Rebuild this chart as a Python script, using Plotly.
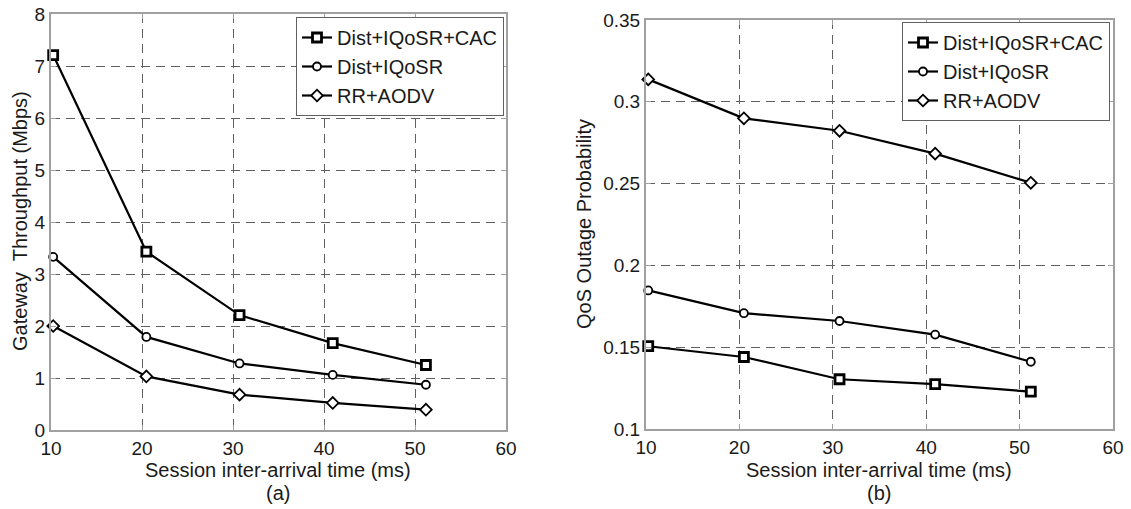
import plotly.graph_objects as go

# ---- data ----
x_ms = [10.24, 20.48, 30.72, 40.96, 51.2]
series_names = ["Dist+IQoSR+CAC", "Dist+IQoSR", "RR+AODV"]
thr_cac = [7.21, 3.43, 2.21, 1.67, 1.25]
thr_iqosr = [3.33, 1.79, 1.28, 1.06, 0.87]
thr_rr = [2.00, 1.03, 0.68, 0.52, 0.39]
out_cac = [0.1506, 0.1440, 0.1304, 0.1274, 0.1228]
out_iqosr = [0.1847, 0.1708, 0.1660, 0.1577, 0.1411]
out_rr = [0.3137, 0.2899, 0.2823, 0.2683, 0.2505]
x_ticks = [10, 20, 30, 40, 50, 60]
y1_ticks = [0, 1, 2, 3, 4, 5, 6, 7, 8]
y2_ticks = [0.1, 0.15, 0.2, 0.25, 0.3, 0.35]
y2_ticktext = ["0.1", "0.15", "0.2", "0.25", "0.3", "0.35"]

W, H = 1131, 509
FONT = "Liberation Sans, Arial, Helvetica, sans-serif"
TXT = "#1a1a1a"

markers = [
    dict(symbol="square", size=9, color="white", line=dict(color="black", width=2.8)),
    dict(symbol="circle", size=8, color="white", line=dict(color="black", width=1.8)),
    dict(symbol="diamond", size=9, color="white", line=dict(color="black", width=1.8)),
]

fig = go.Figure()
for name, ys, mk in zip(series_names, [thr_cac, thr_iqosr, thr_rr], markers):
    fig.add_trace(go.Scatter(x=x_ms, y=ys, mode="lines+markers", name=name,
                             line=dict(color="black", width=2.2), marker=mk,
                             cliponaxis=False, xaxis="x", yaxis="y", legend="legend"))
for name, ys, mk in zip(series_names, [out_cac, out_iqosr, out_rr], markers):
    fig.add_trace(go.Scatter(x=x_ms, y=ys, mode="lines+markers", name=name,
                             line=dict(color="black", width=2.2), marker=mk,
                             cliponaxis=False, xaxis="x2", yaxis="y2", legend="legend2"))

def px_x(p):
    return p / W

def px_y(p):
    return (H - p) / H

axis_common = dict(
    showline=True, linecolor="#a0a0a0", linewidth=2, mirror="ticks",
    ticks="inside", ticklen=5, tickcolor="#a0a0a0", tickwidth=1,
    showgrid=True, gridcolor="#606060", gridwidth=1, griddash="9px,6px",
    zeroline=False, tickfont=dict(family=FONT, size=19, color=TXT),
    automargin=False, fixedrange=True,
)

legend_common = dict(xanchor="right", yanchor="top",
                     bgcolor="white", bordercolor="#606060", borderwidth=1,
                     font=dict(family=FONT, size=20, color=TXT), tracegroupgap=0,
                     itemwidth=30)

fig.update_layout(
    width=W, height=H,
    margin=dict(l=0, r=0, t=0, b=0),
    paper_bgcolor="white", plot_bgcolor="white",
    font=dict(family=FONT, size=19, color=TXT),
    xaxis=dict(domain=[px_x(51), px_x(506)], range=[10, 60], tickvals=x_ticks,
               anchor="y", **axis_common),
    yaxis=dict(domain=[px_y(430), px_y(14)], range=[0, 8], tickvals=y1_ticks,
               anchor="x", **axis_common),
    xaxis2=dict(domain=[px_x(646), px_x(1113)], range=[10, 60], tickvals=x_ticks,
                anchor="y2", **axis_common),
    yaxis2=dict(domain=[px_y(429), px_y(20)], range=[0.1, 0.35], tickvals=y2_ticks,
                ticktext=y2_ticktext, anchor="x2", **axis_common),
    legend=dict(x=px_x(504), y=px_y(17), **legend_common),
    legend2=dict(x=px_x(1110), y=px_y(22), **legend_common),
    showlegend=True,
)

ann_font = dict(family=FONT, size=20, color=TXT)
annotations = [
    dict(text="Session inter-arrival time (ms)", x=px_x(278), y=px_y(470)),
    dict(text="(a)", x=px_x(278), y=px_y(493)),
    dict(text="Session inter-arrival time (ms)", x=px_x(879), y=px_y(470)),
    dict(text="(b)", x=px_x(879), y=px_y(493)),
    dict(text="Gateway  Throughput (Mbps)", x=px_x(20), y=px_y(221), textangle=-90),
    dict(text="QoS Outage Probability", x=px_x(584), y=px_y(224), textangle=-90),
]
for a in annotations:
    fig.add_annotation(xref="paper", yref="paper", showarrow=False,
                       xanchor="center", yanchor="middle", font=ann_font, **a)

fig.write_html("out.html")
